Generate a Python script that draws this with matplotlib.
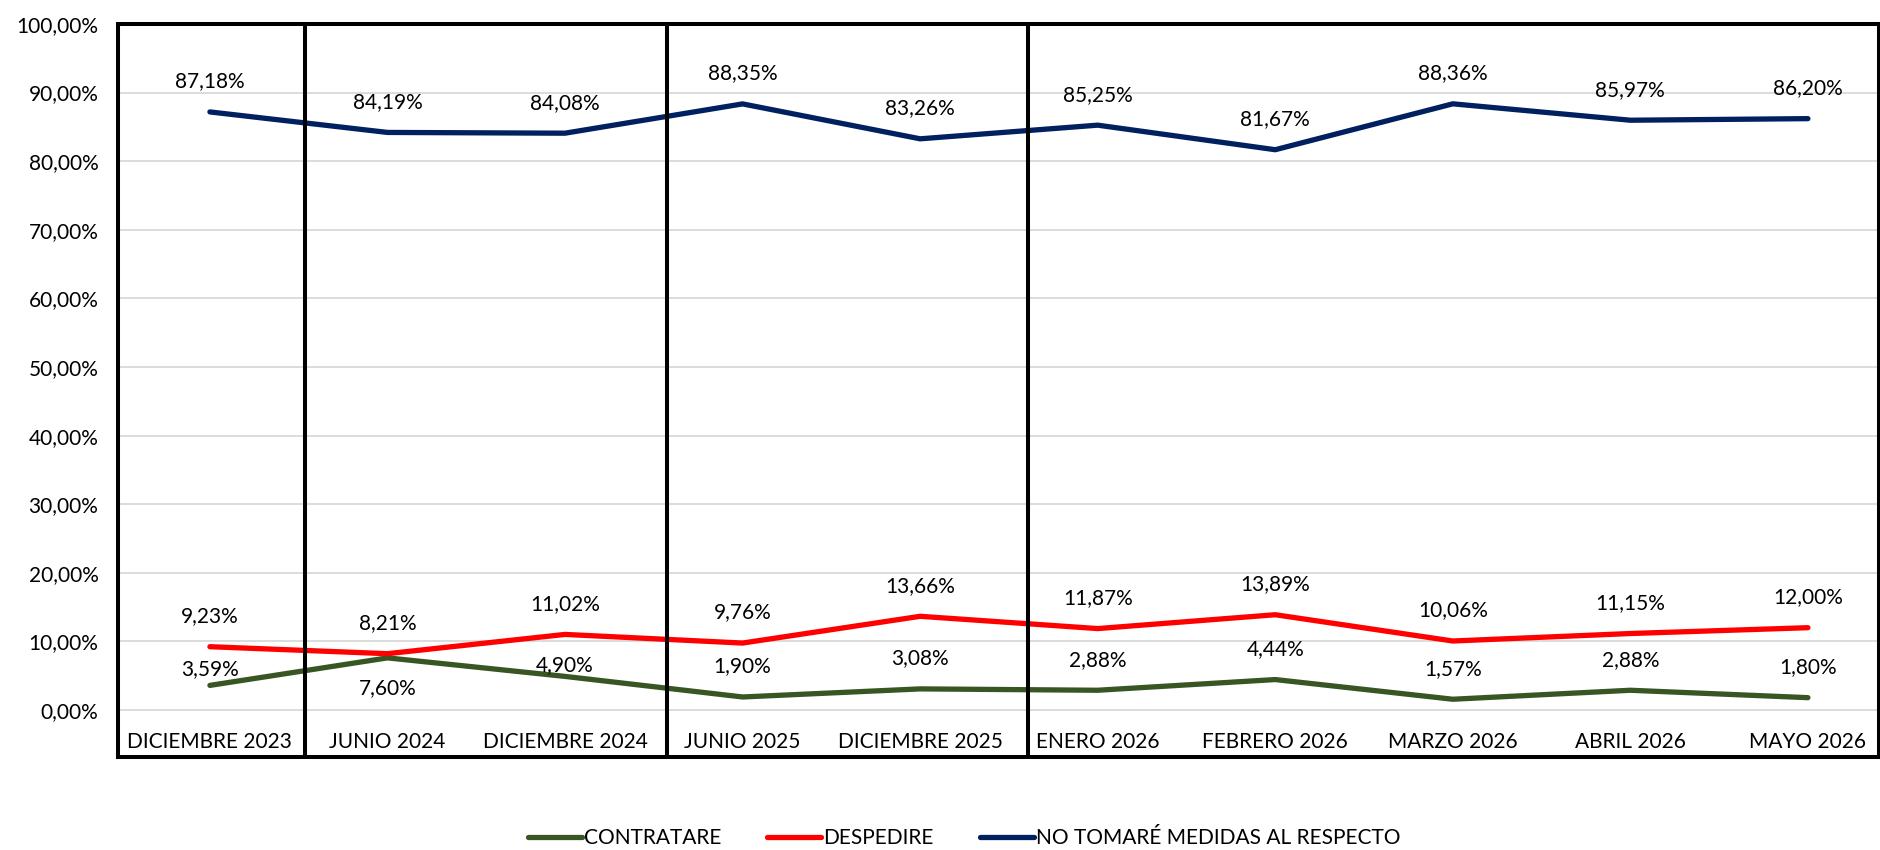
import numpy as np
import matplotlib
matplotlib.use("Agg")
from matplotlib import pyplot as plt
from matplotlib.ticker import FuncFormatter

plt.rcParams['font.family'] = ['Lato', 'DejaVu Sans']

categorias = ['DICIEMBRE 2023', 'JUNIO 2024', 'DICIEMBRE 2024', 'JUNIO 2025',
              'DICIEMBRE 2025', 'ENERO 2026', 'FEBRERO 2026', 'MARZO 2026',
              'ABRIL 2026', 'MAYO 2026']
contratare = [3.59, 7.60, 4.90, 1.90, 3.08, 2.88, 4.44, 1.57, 2.88, 1.80]
despedire = [9.23, 8.21, 11.02, 9.76, 13.66, 11.87, 13.89, 10.06, 11.15, 12.00]
no_medidas = [87.18, 84.19, 84.08, 88.35, 83.26, 85.25, 81.67, 88.36, 85.97, 86.20]

# label offsets in points (default above the point)
off_contratare = [12, -22, 8, 22, 22, 22, 22, 22, 22, 22]
off_default = 22

verde = '#375623'
rojo = '#FF0000'
azul = '#002060'

x = np.arange(len(categorias))
fs = 15

fig = plt.figure(figsize=(18.81, 8.5), dpi=100)
ax = fig.add_axes([0.0627, 0.1094, 0.9362, 0.8624])

ax.plot(x, np.array(contratare) / 100, color=verde, lw=3.8, solid_capstyle='round',
        label='CONTRATARE', zorder=3)
ax.plot(x, np.array(despedire) / 100, color=rojo, lw=3.8, solid_capstyle='round',
        label='DESPEDIRE', zorder=3)
ax.plot(x, np.array(no_medidas) / 100, color=azul, lw=3.8, solid_capstyle='round',
        label='NO TOMARÉ MEDIDAS AL RESPECTO', zorder=3)

def fmt(v):
    return ('%.2f' % v).replace('.', ',') + '%'

for i in x:
    ax.annotate(fmt(contratare[i]), (i, contratare[i] / 100), xytext=(0, off_contratare[i]),
                textcoords='offset points', ha='center', va='center', fontsize=fs)
    ax.annotate(fmt(despedire[i]), (i, despedire[i] / 100), xytext=(0, off_default),
                textcoords='offset points', ha='center', va='center', fontsize=fs)
    ax.annotate(fmt(no_medidas[i]), (i, no_medidas[i] / 100), xytext=(0, off_default),
                textcoords='offset points', ha='center', va='center', fontsize=fs)

# category labels inside the box
for i, c in enumerate(categorias):
    ax.text(i, -0.0466, c, ha='center', va='center', fontsize=fs)

ax.set_xlim(-0.518, 9.40)
ax.set_ylim(-0.0685, 1.0)
ax.set_xticks([])
ax.set_yticks(np.arange(0, 1.01, 0.1))
ax.yaxis.set_major_formatter(FuncFormatter(lambda v, p: ('%.2f' % (v * 100)).replace('.', ',') + '%'))
ax.tick_params(axis='y', length=0, pad=14, labelsize=fs)
ax.grid(axis='y', color='#d9d9d9', lw=1.3, zorder=0)

for s in ax.spines.values():
    s.set_linewidth(2.9)
    s.set_color('black')

# period separators
for xv in [0.535, 2.573, 4.606]:
    ax.axvline(xv, color='black', lw=2.9, zorder=4)

fig.legend(loc='center', bbox_to_anchor=(0.5125, 0.0141), ncol=3, frameon=False,
           fontsize=fs, handlelength=2.6, handletextpad=0.1, columnspacing=2.2)

fig.savefig('out.png', dpi=100)
